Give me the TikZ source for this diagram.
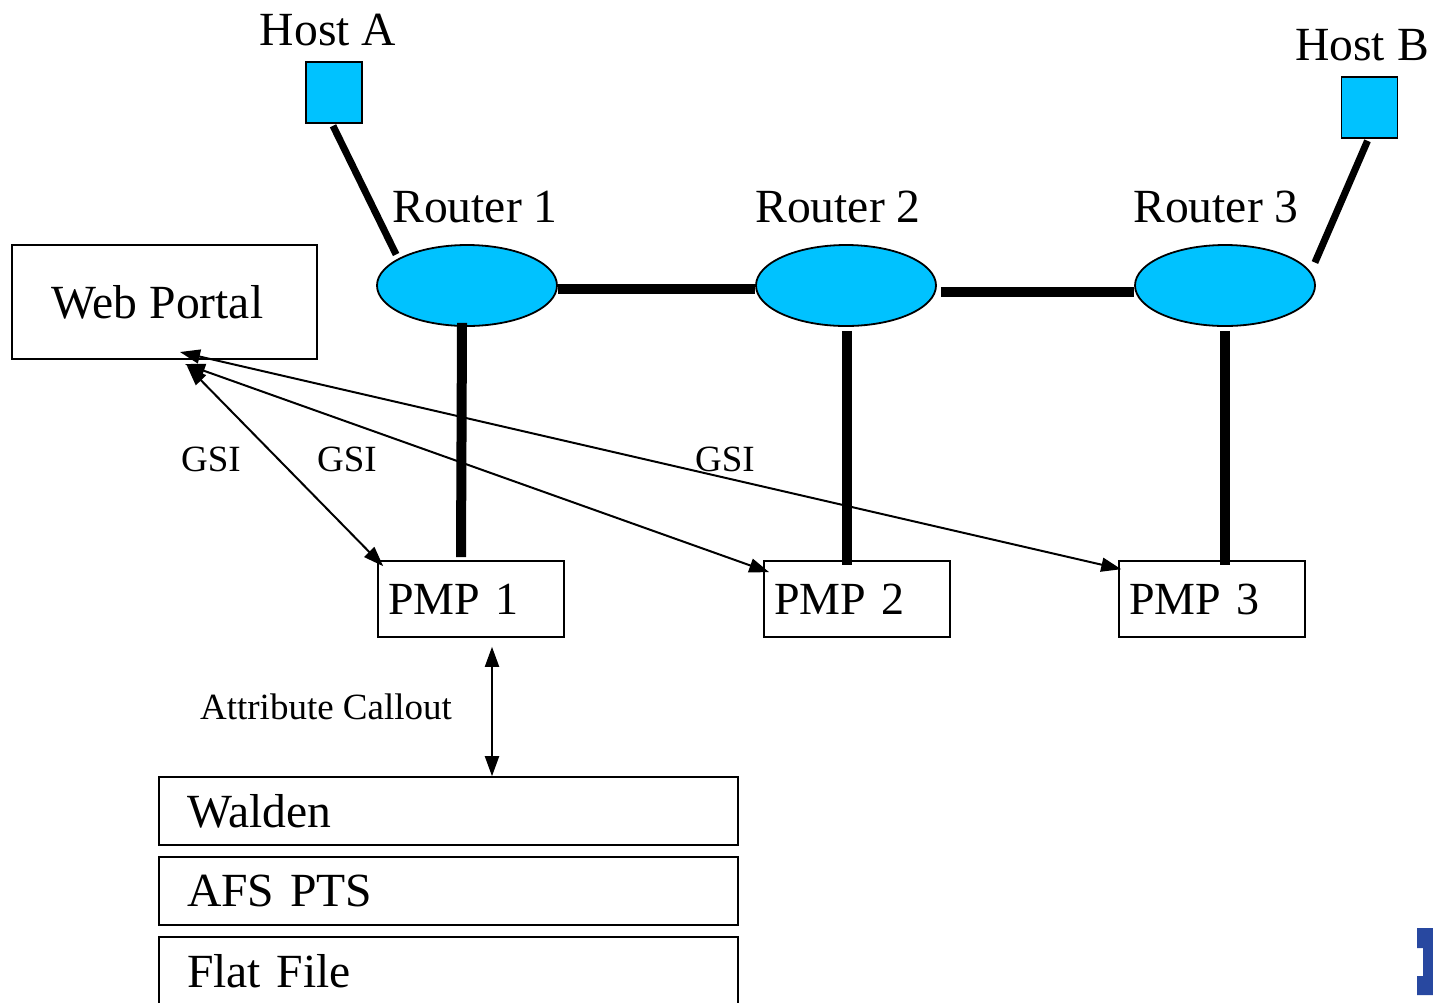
\documentclass[tikz,border=0pt]{standalone}
\usepackage{fontspec}
\setmainfont{Liberation Serif}
\usetikzlibrary{arrows.meta,calc,shapes.geometric}
\definecolor{cyanfill}{RGB}{0,194,255}
\definecolor{logoblue}{RGB}{40,72,160}
\tikzset{
  router/.style={ellipse,draw=black,line width=0.9pt,fill=cyanfill,minimum width=90pt,minimum height=40.5pt,inner sep=0pt},
  hostbox/.style={rectangle,draw=black,line width=0.8pt,fill=cyanfill,minimum width=28pt,minimum height=30.5pt,inner sep=0pt},
  biglabel/.style={font=\fontsize{23.8}{26}\selectfont,inner sep=0pt},
  smalllabel/.style={font=\fontsize{18.5}{21}\selectfont,inner sep=0pt},
  pmpbox/.style={rectangle,draw=black,line width=0.8pt,minimum width=93pt,minimum height=38pt,inner xsep=5pt,inner ysep=0pt,text width=83pt,align=left,font=\fontsize{23}{26}\selectfont},
  storebox/.style={rectangle,draw=black,line width=0.8pt,minimum width=289.5pt,minimum height=34pt,inner xsep=14pt,inner ysep=0pt,text width=261.5pt,align=left,font=\fontsize{23.8}{26}\selectfont},
  thick link/.style={line width=5pt},
  host link/.style={line width=3.5pt},
  gsi/.style={line width=1pt,{Triangle[length=10pt,width=7pt]}-{Triangle[length=10pt,width=7pt]}}
}
\begin{document}
\begin{tikzpicture}[x=0.5pt,y=-0.5pt]
\clip (0,0) rectangle (1433,1002);
\fill[white] (0,0) rectangle (1433,1002);

% hosts
\node[hostbox] (hostA) at (334,92.5) {};
\node[hostbox] (hostB) at (1369.5,107.5) {};
\node[biglabel] (hostAlabel) at (328,30) {Host A};
\node[biglabel] (hostBlabel) at (1362,45) {Host B};

% routers
\node[router] (r1) at (467,285.5) {};
\node[router] (r2) at (846,285.5) {};
\node[router] (r3) at (1225,285.5) {};
\node[biglabel] (r1label) at (475,207) {Router 1};
\node[biglabel] (r2label) at (838,207) {Router 2};
\node[biglabel] (r3label) at (1216,207) {Router 3};

% web portal
\node[rectangle,draw=black,line width=0.8pt,minimum width=152.5pt,minimum height=57pt,inner sep=0pt,font=\fontsize{23.8}{26}\selectfont] (wp) at (164.5,302) {Web Portal\hspace*{7pt}};

% PMPs
\node[pmpbox] (pmp1) at (471,599) {PMP 1};
\node[pmpbox] (pmp2) at (857,599) {PMP 2};
\node[pmpbox] (pmp3) at (1212,599) {PMP 3};

% stores
\node[storebox] (walden) at (448.5,811) {Walden};
\node[storebox] (afs) at (448.5,891) {AFS PTS};
\node[storebox] (flat) at (448.5,971) {Flat File};

% thick links
\coordinate (r1e) at ($(r1.east)+(0,3)$);
\draw[thick link] (r1e) -- (r1e -| r2.west);
\coordinate (r2e) at ($(r2.east)+(4,6)$);
\draw[thick link] (r2e) -- (r2e -| r3.west);
\draw[host link] ($(hostA.south)+(-1,2)$) -- ($(r1.west)+(20,-31)$);
\draw[host link] ($(hostB.south)+(-2,2)$) -- ($(r3.east)+(-1,-23)$);
\draw[thick link] ($(r1.south)+(-5,-4)$) -- ($(pmp1.north)+(-10,-3)$);
\draw[thick link] ($(r2.south)+(1,4)$) -- ($(pmp2.north)+(-10,5)$);
\draw[thick link] ($(r3.south)+(0,4)$) -- ($(pmp3.north)+(13,5)$);

% GSI arrows
\coordinate (wpa) at (180,352);
\coordinate (wpb) at (185,364);
\coordinate (wpc) at (187,366);
\coordinate (p1end) at ($(pmp1.north west)+(6,6)$);
\coordinate (p2end) at ($(pmp2.north west)+(6,12)$);
\coordinate (p3end) at ($(pmp3.north west)+(3,9)$);
\draw[gsi] (wpc) -- (p1end);
\draw[gsi] (wpb) -- (p2end);
\draw[gsi] (wpa) -- (p3end);
\node[smalllabel] (gsi1) at (211,459) {GSI};
\node[smalllabel] (gsi2) at (347,459) {GSI};
\node[smalllabel] (gsi3) at (725,459) {GSI};

% attribute callout
\coordinate (acTop) at ($(pmp1.south)+(21,9)$);
\draw[gsi] (acTop) -- (acTop |- walden.north);
\node[smalllabel] (attr) at (326,707) {Attribute Callout};

% logo fragment
\fill[logoblue] (1417,928) -- (1433,928) -- (1433,995) -- (1417,995) -- (1417,976) -- (1423,976) -- (1423,948) -- (1417,948) -- cycle;
\end{tikzpicture}
\end{document}
